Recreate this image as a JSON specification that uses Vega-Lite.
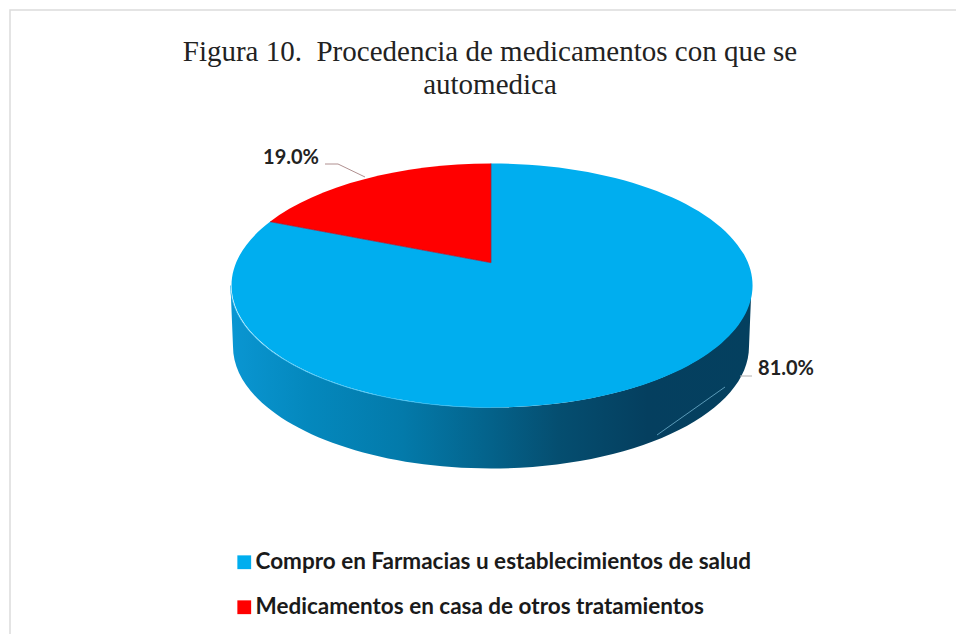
{
  "$schema": "https://vega.github.io/schema/vega-lite/v6.json",
  "autosize": "none",
  "width": 946,
  "height": 624,
  "padding": {"left": 10, "top": 10, "right": 0, "bottom": 0},
  "background": "white",
  "view": {"stroke": null},
  "title": {
    "text": ["Figura 10. \u00a0Procedencia de medicamentos con que se", "automedica"],
    "font": "Liberation Serif",
    "fontSize": 29,
    "fontWeight": "normal",
    "color": "#222222",
    "lineHeight": 33,
    "anchor": "middle",
    "baseline": "top",
    "dx": 7,
    "dy": 97
  },
  "data": {
    "values": [
      {"categoria": "Compro en Farmacias u establecimientos de salud", "valor": 0.81},
      {"categoria": "Medicamentos en casa de otros tratamientos", "valor": 0.19}
    ]
  },
  "encoding": {
    "color": {
      "field": "categoria",
      "type": "nominal",
      "scale": {
        "domain": ["Compro en Farmacias u establecimientos de salud", "Medicamentos en casa de otros tratamientos"],
        "range": ["#00aeef", "#ff0000"]
      },
      "legend": {
        "title": null,
        "orient": "none",
        "legendX": 223,
        "legendY": 541,
        "symbolType": "square",
        "symbolSize": 190,
        "symbolOpacity": 1,
        "symbolStrokeWidth": 0,
        "labelFont": "Lato",
        "labelFontWeight": "bold",
        "labelFontSize": 22.5,
        "labelColor": "#1a1a1a",
        "labelLimit": 700,
        "labelOffset": 0,
        "rowPadding": 22,
        "columns": 1
      }
    }
  },
  "layer": [
    {
      "transform": [{"filter": "datum.valor == 0.81"}],
      "mark": {"type": "point", "shape": "M-473,312L-473,-312L474,-312", "size": 4, "filled": false, "strokeWidth": 1.5, "opacity": 1},
      "encoding": {"color": {"value": "#dcdcdc"}}
    },
    {
      "transform": [{"filter": "datum.valor == 0.81"}],
      "mark": {
        "type": "point",
        "shape": "M-252.5,-36.5L-250,24.5A258,122 0 0 0 266,24.5L268.5,-36.5A260.5,122 0 0 1 -252.5,-36.5Z",
        "size": 4,
        "filled": true,
        "opacity": 1,
        "fill": {
          "gradient": "linear",
          "x1": 0, "y1": 0, "x2": 1, "y2": 0,
          "stops": [
            {"offset": 0, "color": "#0a96d2"},
            {"offset": 0.15, "color": "#0488bd"},
            {"offset": 0.33, "color": "#037aaa"},
            {"offset": 0.5, "color": "#04628a"},
            {"offset": 0.63, "color": "#054e70"},
            {"offset": 0.8, "color": "#053f5f"},
            {"offset": 1, "color": "#04405f"}
          ]
        }
      },
      "encoding": {"color": {"value": null}}
    },
    {
      "transform": [{"filter": "datum.valor == 0.81"}],
      "mark": {"type": "point", "shape": "M8,-59.3L8,-158.5A260.5,122 0 1 1 -213,-100.3Z", "size": 4, "filled": true, "opacity": 1}
    },
    {
      "transform": [{"filter": "datum.valor == 0.19"}],
      "mark": {"type": "point", "shape": "M8,-59.3L-213,-100.3A260.5,122 0 0 1 8,-158.5Z", "size": 4, "filled": true, "opacity": 1}
    },
    {
      "transform": [{"filter": "datum.valor == 0.19"}],
      "mark": {"type": "point", "shape": "M8,-59.3L-213,-100.3M8,-59.3L8,-158.5", "size": 4, "filled": false, "strokeWidth": 1, "opacity": 0.7},
      "encoding": {"color": {"value": "#8a2040"}}
    },
    {
      "transform": [{"filter": "datum.valor == 0.81"}],
      "mark": {"type": "point", "shape": "M-252.5,-36.5A260.5,122 0 0 0 8,85.5", "size": 4, "filled": false, "strokeWidth": 1, "opacity": 0.7},
      "encoding": {"color": {"value": "#22b8f2"}}
    },
    {
      "transform": [{"filter": "datum.valor == 0.19"}],
      "mark": {"type": "point", "shape": "M-158,-158L-145,-158L-118,-145", "size": 4, "filled": false, "strokeWidth": 1, "opacity": 1},
      "encoding": {"color": {"value": "#b09090"}}
    },
    {
      "transform": [{"filter": "datum.valor == 0.81"}],
      "mark": {"type": "point", "shape": "M174,113L242,65", "size": 4, "filled": false, "strokeWidth": 1, "opacity": 1},
      "encoding": {"color": {"value": "#5a9ab8"}}
    },
    {
      "transform": [{"filter": "datum.valor == 0.81"}],
      "mark": {"type": "point", "shape": "M257,54L269,54", "size": 4, "filled": false, "strokeWidth": 1, "opacity": 1},
      "encoding": {"color": {"value": "#b0b0b0"}}
    },
    {
      "transform": [{"filter": "datum.valor == 0.19"}],
      "mark": {"type": "text", "font": "Lato", "fontWeight": "bold", "fontSize": 20, "dx": -192, "dy": -164},
      "encoding": {"text": {"field": "valor", "type": "quantitative", "format": ".1%"}, "color": {"value": "#222222"}}
    },
    {
      "transform": [{"filter": "datum.valor == 0.81"}],
      "mark": {"type": "text", "font": "Lato", "fontWeight": "bold", "fontSize": 20, "dx": 303, "dy": 47},
      "encoding": {"text": {"field": "valor", "type": "quantitative", "format": ".1%"}, "color": {"value": "#222222"}}
    }
  ]
}
